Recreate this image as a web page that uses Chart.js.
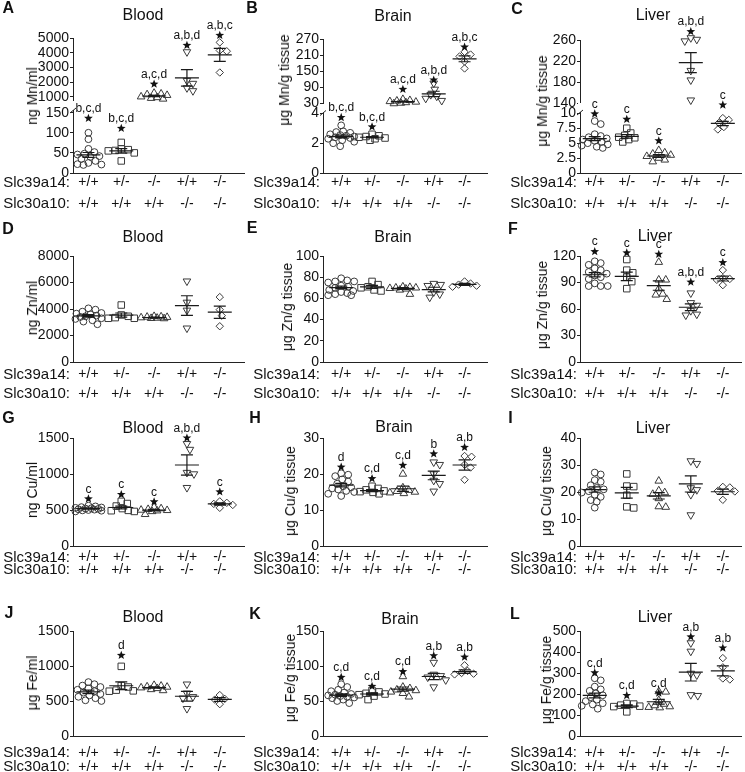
<!DOCTYPE html>
<html><head><meta charset="utf-8">
<script src="https://cdn.jsdelivr.net/npm/chart.js@4.4.1/dist/chart.umd.min.js"></script>
<style>
html,body{margin:0;padding:0;background:#fff;}
#fig{position:relative;width:745px;height:772px;overflow:hidden;font-family:"Liberation Sans",Arial,sans-serif;color:#111;}
canvas{position:absolute;}
.t{position:absolute;white-space:nowrap;transform:translate(-50%,-50%);line-height:1;}
.letter{font-weight:bold;font-size:16px;}
.title{font-size:16px;}
.ytitle{font-size:14px;transform:translate(-50%,-50%) rotate(-90deg);}
</style></head><body><div id="fig"></div>
<script>
// ---------- shared categories ----------
const genotypeSlc39a14 = ['+/+', '+/-', '-/-', '+/+', '-/-'];
const genotypeSlc30a10 = ['+/+', '+/+', '+/+', '-/-', '-/-'];

// ---------- A: Mn, blood (ng/ml), broken axis ----------
const A_points = [
  [100, 84, 60, 52, 48, 46, 42, 40, 35, 30, 25, 22, 21, 20],
  [76, 60, 58, 56, 55, 50, 30],
  [1250, 1200, 1150, 1100, 1000, 950, 900, 850],
  [4050, 2100, 1900, 1600, 1400],
  [4700, 4150, 4100, 2650]
];
const A_mean = [45, 55, 1050, 2280, 3850];
const A_sem = [6, 5.5, 50, 560, 440];
const A_star = [136, 111, 1860, 4500, 5180];
const A_letters = ['b,c,d', 'b,c,d', 'a,c,d', 'a,b,d', 'a,b,c'];
const A_groupAxis = ['lo', 'lo', 'hi', 'hi', 'hi'];
const A_ticksLow = [0, 50, 100, 150];
const A_ticksHigh = [1000, 2000, 3000, 4000, 5000];

// ---------- B: Mn, brain (ug/g), broken axis ----------
const B_points = [
  [3.2, 2.8, 2.75, 2.7, 2.6, 2.55, 2.5, 2.45, 2.4, 2.35, 2.3, 2.2, 2.1, 2.0, 1.8],
  [2.6, 2.5, 2.45, 2.4, 2.35, 2.3, 2.2],
  [45, 41, 39, 37, 35, 33, 31, 29],
  [105, 82, 62, 56, 48, 40],
  [222, 212, 205, 186, 160]
];
const B_mean = [2.45, 2.4, 36, 65, 196];
const B_sem = [0.09, 0.05, 2, 10, 11];
const B_star = [3.73, 3.1, 82, 117, 240];
const B_letters = ['b,c,d', 'b,c,d', 'a,c,d', 'a,b,d', 'a,b,c'];
const B_groupAxis = ['lo', 'lo', 'hi', 'hi', 'hi'];
const B_ticksLow = [0, 2, 4];
const B_ticksHigh = [30, 90, 150, 210, 270];

// ---------- C: Mn, liver (ug/g), broken axis ----------
const C_points = [
  [8.7, 8.2, 6.5, 6.2, 6.0, 5.8, 5.6, 5.4, 5.2, 5.0, 4.8, 4.6, 4.4, 4.2],
  [7.5, 6.7, 6.3, 6.0, 5.9, 5.6, 5.2],
  [3.8, 3.4, 3.2, 3.0, 2.8, 2.5, 2.2, 1.9],
  [264, 261, 258, 202, 184, 146],
  [9.2, 8.9, 8.4, 7.7, 7.3]
];
const C_mean = [5.76, 6.15, 2.85, 217, 8.3];
const C_sem = [0.35, 0.3, 0.22, 19, 0.35];
const C_star = [9.9, 9.0, 5.4, 276, 11.4];
const C_letters = ['c', 'c', 'c', 'a,b,d', 'c'];
const C_groupAxis = ['lo', 'lo', 'lo', 'hi', 'lo'];
const C_ticksLow = [0, 2.5, 5, 7.5, 10];
const C_ticksHigh = [140, 180, 220, 260];

// ---------- D: Zn, blood ----------
const D_points = [
  [4050, 3950, 3800, 3700, 3650, 3600, 3500, 3450, 3400, 3300, 3250, 3150, 3050, 2850],
  [4300, 3550, 3450, 3350, 3300, 3300],
  [3450, 3420, 3400, 3380, 3350, 3320, 3300, 3280],
  [6100, 4500, 3900, 2550],
  [4900, 3950, 3500, 2700]
];
const D_mean = [3480, 3540, 3360, 4260, 3760];
const D_sem = [95, 160, 25, 740, 460];
const D_star = [null, null, null, null, null];
const D_letters = ['', '', '', '', ''];
const D_ticks = [0, 2000, 4000, 6000, 8000];

// ---------- E: Zn, brain ----------
const E_points = [
  [79, 77, 76, 76, 75, 72, 71, 70, 68, 67, 66, 65, 64, 63, 63],
  [76, 73, 71, 70, 68, 67],
  [71, 70.5, 70, 70, 69.5, 69, 68, 64],
  [74, 73, 72, 66, 64, 61],
  [76, 74, 73, 72, 71]
];
const E_mean = [70.2, 70.8, 69.4, 68.3, 73.2];
const E_sem = [1.3, 1.4, 0.8, 2.2, 0.9];
const E_star = [null, null, null, null, null];
const E_letters = ['', '', '', '', ''];
const E_ticks = [0, 20, 40, 60, 80, 100];

// ---------- F: Zn, liver ----------
const F_points = [
  [114, 112, 110, 106, 104, 102, 100, 98, 96, 94, 89, 86, 86, 86],
  [116, 104, 101, 96, 91, 83],
  [113, 93, 93, 83, 77, 76, 71],
  [78, 67, 64, 58, 54, 53],
  [104, 95, 94, 93, 87]
];
const F_mean = [98.8, 97, 86.5, 62, 94.5];
const F_sem = [2.4, 4.8, 5.3, 3.9, 2.8];
const F_star = [125, 123.5, 122, 90.5, 112.5];
const F_letters = ['c', 'c', 'c', 'a,b,d', 'c'];
const F_ticks = [0, 30, 60, 90, 120];

// ---------- G: Cu, blood ----------
const G_points = [
  [560, 550, 540, 535, 530, 525, 520, 515, 510, 505, 500, 495, 490, 480],
  [620, 590, 555, 520, 495, 490, 480],
  [540, 520, 510, 500, 495, 490, 480, 440],
  [1420, 1340, 1020, 1000, 810],
  [620, 600, 585, 570, 530]
];
const G_mean = [520, 535, 497, 1125, 585];
const G_sem = [7, 20, 11, 140, 16];
const G_star = [655, 715, 614, 1500, 752];
const G_letters = ['c', 'c', 'c', 'a,b,d', 'c'];
const G_ticks = [0, 500, 1000, 1500];

// ---------- H: Cu, brain ----------
const H_points = [
  [20.2, 19.8, 19.4, 18.5, 17.9, 17.3, 16.6, 16.3, 16.0, 15.7, 15.3, 15.0, 14.5, 13.9],
  [16.6, 16.0, 15.6, 15.3, 15.1, 14.9, 14.5],
  [20.0, 16.2, 15.5, 15.2, 15.0, 14.8, 14.6],
  [23.3, 22.6, 20.0, 18.2, 17.3, 15.2],
  [25.0, 24.8, 22.6, 21.8, 18.4]
];
const H_mean = [16.9, 15.4, 15.9, 19.6, 22.5];
const H_sem = [0.5, 0.3, 0.75, 1.2, 1.4];
const H_star = [21.9, 18.7, 22.4, 25.6, 27.4];
const H_letters = ['d', 'c,d', 'c,d', 'b', 'a,b'];
const H_ticks = [0, 10, 20, 30];

// ---------- I: Cu, liver ----------
const I_points = [
  [27.2, 26.5, 24.4, 23.8, 22.5, 21.5, 21.0, 20.3, 19.8, 19.0, 18.2, 17.0, 16.4, 14.2],
  [26.7, 22.2, 22.0, 18.8, 14.5, 14.1],
  [24.1, 20.5, 19.8, 19.2, 17.6, 14.6, 14.4],
  [31.5, 30.5, 21.5, 20.8, 19.0, 11.5],
  [21.9, 21.7, 20.4, 20.2, 17.1]
];
const I_mean = [20.9, 19.7, 18.6, 23.0, 20.1];
const I_sem = [1.0, 2.0, 1.2, 3.0, 1.0];
const I_star = [null, null, null, null, null];
const I_letters = ['', '', '', '', ''];
const I_ticks = [0, 10, 20, 30, 40];

// ---------- J: Fe, blood ----------
const J_points = [
  [770, 740, 720, 700, 680, 660, 640, 620, 600, 580, 560, 540, 510, 500],
  [995, 720, 700, 655, 645, 640],
  [725, 715, 705, 700, 690, 680, 665, 650],
  [740, 610, 560, 540, 390],
  [585, 530, 520, 455]
];
const J_mean = [630, 718, 692, 568, 522];
const J_sem = [24, 55, 10, 70, 27];
const J_star = [null, 1152, null, null, null];
const J_letters = ['', 'd', '', '', ''];
const J_ticks = [0, 500, 1000, 1500];

// ---------- K: Fe, brain ----------
const K_points = [
  [74, 70, 66, 64, 62, 60, 59, 58, 57, 56, 55, 54, 52, 50, 47],
  [65, 63, 61, 60, 59, 57, 52],
  [85, 70, 68, 66, 65, 63, 61, 56],
  [105, 88, 86, 84, 80, 70],
  [101, 93, 90, 89, 88]
];
const K_mean = [58.5, 60, 67, 85, 92];
const K_sem = [1.8, 1.6, 3, 4.5, 2.5];
const K_star = [83.7, 71, 92, 114.7, 112.7];
const K_letters = ['c,d', 'c,d', 'c,d', 'a,b', 'a,b'];
const K_ticks = [0, 50, 100, 150];

// ---------- L: Fe, liver ----------
const L_points = [
  [275, 265, 235, 222, 215, 203, 194, 185, 173, 166, 156, 150, 144, 130],
  [155, 152, 147, 142, 140, 115],
  [212, 210, 170, 152, 145, 140, 137, 135],
  [443, 403, 298, 290, 196, 192],
  [371, 327, 274, 269]
];
const L_mean = [193, 142, 163, 304, 310];
const L_sem = [11, 6.5, 11, 42, 24];
const L_star = [301, 193, 205, 472, 419];
const L_letters = ['c,d', 'c,d', 'c,d', 'a,b', 'a,b'];
const L_ticks = [0, 100, 200, 300, 400, 500];

// ---------- layout (pixels) ----------
const TEXT = '#111';
const AXIS = '#222';
const MARK = '#3a3a3a';
const FONT = '"Liberation Sans", Arial, sans-serif';
Chart.defaults.font.family = FONT;
Chart.defaults.color = TEXT;

const COLS = [
  {axisX: 73, right: 247, xmin: 0.53, xmax: 5.75},
  {axisX: 323, right: 490, xmin: 0.41, xmax: 5.74},
  {axisX: 580, right: 744, xmin: 0.54, xmax: 5.58}
];
const ROWS = [
  {top: [38, 39, 40], bottom: 173, pad: -1.3, lh: 21.6},
  {top: [256, 256, 256], bottom: 362, pad: 2.9, lh: 19.3},
  {top: [438, 438, 438], bottom: 546, pad: 5, lh: 12.8},
  {top: [631, 631, 631], bottom: 736, pad: 10.3, lh: 13.6}
];
const markerStyles = [
  {pointStyle: 'circle', radius: 3.4, rotation: 0},
  {pointStyle: 'rect', radius: 4.6, rotation: 0},
  {pointStyle: 'triangle', radius: 4.4, rotation: 0},
  {pointStyle: 'triangle', radius: 4.4, rotation: 180},
  {pointStyle: 'rectRot', radius: 3.7, rotation: 0}
];

const panels = [
  {key: 'A', row: 0, col: 0, title: 'Blood', yTitle: 'ng Mn/ml', pts: A_points, mean: A_mean, sem: A_sem, star: A_star, sig: A_letters,
   broken: {axis: A_groupAxis, lo: {ticks: A_ticksLow, min: 0, max: 169, w: 68}, hi: {ticks: A_ticksHigh, min: 437, max: 5000, w: 67}},
   letterPos: [8.3, 7.5], titlePos: [143, 15], yTitlePos: [32, 96]},
  {key: 'B', row: 0, col: 1, title: 'Brain', yTitle: 'μg Mn/g tissue', pts: B_points, mean: B_mean, sem: B_sem, star: B_star, sig: B_letters,
   broken: {axis: B_groupAxis, lo: {ticks: B_ticksLow, min: 0, max: 4.4, w: 65.5}, hi: {ticks: B_ticksHigh, min: 14.3, max: 270, w: 68.5}},
   letterPos: [252, 7.5], titlePos: [393, 16], yTitlePos: [284, 80]},
  {key: 'C', row: 0, col: 2, title: 'Liver', yTitle: 'μg Mn/g tissue', pts: C_points, mean: C_mean, sem: C_sem, star: C_star, sig: C_letters,
   broken: {axis: C_groupAxis, lo: {ticks: C_ticksLow, min: 0, max: 11.06, w: 66}, hi: {ticks: C_ticksHigh, min: 133, max: 260, w: 67}},
   letterPos: [517, 8.5], titlePos: [653, 15], yTitlePos: [542, 101]},
  {key: 'D', row: 1, col: 0, title: 'Blood', yTitle: 'ng Zn/ml', pts: D_points, mean: D_mean, sem: D_sem, star: D_star, sig: D_letters, ticks: D_ticks,
   letterPos: [8, 229], titlePos: [143, 237], yTitlePos: [32, 308]},
  {key: 'E', row: 1, col: 1, title: 'Brain', yTitle: 'μg Zn/g tissue', pts: E_points, mean: E_mean, sem: E_sem, star: E_star, sig: E_letters, ticks: E_ticks,
   letterPos: [252, 228], titlePos: [393, 237], yTitlePos: [287, 307]},
  {key: 'F', row: 1, col: 2, title: 'Liver', yTitle: 'μg Zn/g tissue', pts: F_points, mean: F_mean, sem: F_sem, star: F_star, sig: F_letters, ticks: F_ticks,
   letterPos: [513, 228.5], titlePos: [655, 236], yTitlePos: [542, 305]},
  {key: 'G', row: 2, col: 0, title: 'Blood', yTitle: 'ng Cu/ml', pts: G_points, mean: G_mean, sem: G_sem, star: G_star, sig: G_letters, ticks: G_ticks,
   letterPos: [8.5, 418], titlePos: [143, 428], yTitlePos: [32, 490]},
  {key: 'H', row: 2, col: 1, title: 'Brain', yTitle: 'μg Cu/g tissue', pts: H_points, mean: H_mean, sem: H_sem, star: H_star, sig: H_letters, ticks: H_ticks,
   letterPos: [255, 418], titlePos: [394, 427], yTitlePos: [290, 491]},
  {key: 'I', row: 2, col: 2, title: 'Liver', yTitle: 'μg Cu/g tissue', pts: I_points, mean: I_mean, sem: I_sem, star: I_star, sig: I_letters, ticks: I_ticks,
   letterPos: [510.5, 418], titlePos: [653, 428], yTitlePos: [546, 491]},
  {key: 'J', row: 3, col: 0, title: 'Blood', yTitle: 'μg Fe/ml', pts: J_points, mean: J_mean, sem: J_sem, star: J_star, sig: J_letters, ticks: J_ticks,
   letterPos: [9, 613], titlePos: [143, 617], yTitlePos: [32, 683]},
  {key: 'K', row: 3, col: 1, title: 'Brain', yTitle: 'μg Fe/g tissue', pts: K_points, mean: K_mean, sem: K_sem, star: K_star, sig: K_letters, ticks: K_ticks,
   letterPos: [255, 614], titlePos: [400, 619], yTitlePos: [290, 678]},
  {key: 'L', row: 3, col: 2, title: 'Liver', yTitle: 'μg Fe/g tissue', pts: L_points, mean: L_mean, sem: L_sem, star: L_star, sig: L_letters, ticks: L_ticks,
   letterPos: [515, 613.5], titlePos: [655, 617], yTitlePos: [546, 680]}
];

const fig = document.getElementById('fig');

function axisId(p, gi) {
  if (!p.broken) return 'y';
  return p.broken.axis[gi] === 'hi' ? 'yHi' : 'yLo';
}

function starShape(ctx, cx, cy, R) {
  const r = R * 0.42;
  ctx.beginPath();
  for (let k = 0; k < 10; k++) {
    const ang = -Math.PI / 2 + k * Math.PI / 5;
    const rr = (k % 2) ? r : R;
    ctx.lineTo(cx + rr * Math.cos(ang), cy + rr * Math.sin(ang));
  }
  ctx.closePath();
  ctx.fill();
}

function makeOverlay(p, r) {
  return {
    id: 'overlay_' + p.key,
    afterDatasetsDraw(chart) {
      const ctx = chart.ctx;
      const xs = chart.scales.x;
      ctx.save();
      // mean +/- SEM
      ctx.strokeStyle = '#1a1a1a';
      ctx.lineWidth = 1.2;
      p.mean.forEach((m, gi) => {
        const ys = chart.scales[axisId(p, gi)];
        const cx = xs.getPixelForValue(gi + 1);
        const ym = ys.getPixelForValue(m);
        const yt = ys.getPixelForValue(m + p.sem[gi]);
        const yb = ys.getPixelForValue(m - p.sem[gi]);
        ctx.beginPath();
        ctx.moveTo(cx - 12, ym); ctx.lineTo(cx + 12, ym);
        ctx.moveTo(cx, yt); ctx.lineTo(cx, yb);
        ctx.moveTo(cx - 6, yt); ctx.lineTo(cx + 6, yt);
        ctx.moveTo(cx - 6, yb); ctx.lineTo(cx + 6, yb);
        ctx.stroke();
      });
      // significance stars and letters
      ctx.fillStyle = TEXT;
      ctx.textAlign = 'center';
      ctx.textBaseline = 'middle';
      ctx.font = '12px ' + FONT;
      p.star.forEach((s, gi) => {
        if (s === null) return;
        let ax = 'y';
        if (p.broken) ax = (s > p.broken.lo.max * 1.06) ? 'yHi' : 'yLo';
        const ys = chart.scales[ax];
        const cx = xs.getPixelForValue(gi + 1);
        const sy = ys.getPixelForValue(s);
        starShape(ctx, cx, sy, 4.6);
        if (p.sig[gi]) ctx.fillText(p.sig[gi], cx, sy - 9.5);
      });
      // axis break
      if (p.broken) {
        const b = chart.scales.yLo.top;
        const ax = chart.chartArea.left;
        ctx.clearRect(ax - 2, b - 4, 4, 9);
        ctx.strokeStyle = AXIS;
        ctx.lineWidth = 1;
        ctx.beginPath();
        ctx.moveTo(ax - 3, b + 8); ctx.lineTo(ax + 3, b + 3);
        ctx.stroke();
      }
      // row headers for genotype labels
      ctx.fillStyle = TEXT;
      ctx.textAlign = 'right';
      ctx.font = '15px ' + FONT;
      const y1 = xs.top + r.pad + r.lh / 2;
      ctx.fillText('Slc39a14:', chart.chartArea.left - 3, y1);
      ctx.fillText('Slc30a10:', chart.chartArea.left - 3, y1 + r.lh);
      ctx.restore();
    }
  };
}

function swarm(chart, p) {
  const xs = chart.scales.x;
  const unit = xs.getPixelForValue(2) - xs.getPixelForValue(1);
  chart.data.datasets.forEach((ds, gi) => {
    const ys = chart.scales[ds.yAxisID];
    const vals = p.pts[gi];
    const order = vals.map((v, i) => i).sort((a, b) => vals[b] - vals[a]);
    const placed = [];
    const minD = 6.2, maxOff = 13;
    order.forEach(i => {
      const py = ys.getPixelForValue(vals[i]);
      let chosen = null, best = 0, bestScore = -1;
      for (let k = 0; k <= maxOff * 2; k++) {
        const off = (k % 2 ? 1 : -1) * Math.ceil(k / 2);
        let d = Infinity;
        placed.forEach(q => { d = Math.min(d, Math.hypot(off - q.off, py - q.py)); });
        if (d >= minD) { chosen = off; break; }
        if (d > bestScore) { bestScore = d; best = off; }
      }
      if (chosen === null) chosen = best;
      placed.push({off: chosen, py});
      ds.data[i].x = gi + 1 + chosen / unit;
    });
  });
}

function addText(txt, pos, cls) {
  const d = document.createElement('div');
  d.className = 't ' + cls;
  d.textContent = txt;
  d.style.left = pos[0] + 'px';
  d.style.top = pos[1] + 'px';
  fig.appendChild(d);
}

function build(p) {
  const c = COLS[p.col], r = ROWS[p.row];
  const plotTop = r.top[p.col], plotBottom = r.bottom;
  const yW = 74, xH = 46, padTop = 32, padRight = 3;
  const left = c.axisX - yW, top = plotTop - padTop;
  const width = Math.round(c.right + padRight - left);
  const height = Math.round(plotBottom + xH - top);
  const canvas = document.createElement('canvas');
  canvas.width = width; canvas.height = height;
  canvas.style.left = left + 'px'; canvas.style.top = top + 'px';
  canvas.style.width = width + 'px'; canvas.style.height = height + 'px';
  fig.appendChild(canvas);

  const scales = {
    x: {
      type: 'linear', position: 'bottom', min: c.xmin, max: c.xmax,
      grid: {display: false, drawTicks: false},
      border: {display: true, color: AXIS, width: 1},
      afterBuildTicks: s => { s.ticks = genotypeSlc39a14.map((_, i) => ({value: i + 1})); },
      afterFit: s => { s.height = xH; },
      ticks: {
        autoSkip: false, maxRotation: 0, minRotation: 0, padding: r.pad, color: TEXT,
        font: {size: 14, lineHeight: r.lh / 14},
        callback: v => { const i = Math.round(v) - 1; return [genotypeSlc39a14[i], genotypeSlc30a10[i]]; }
      }
    }
  };
  function yScale(tickVals, min, max, extra) {
    return Object.assign({
      type: 'linear', position: 'left', min: min, max: max,
      grid: {display: true, drawOnChartArea: false, drawTicks: true, tickLength: 3, color: AXIS, lineWidth: 1},
      border: {display: true, color: AXIS, width: 1},
      afterBuildTicks: s => { s.ticks = tickVals.map(v => ({value: v})); },
      afterFit: s => { s.width = yW; },
      ticks: {autoSkip: false, padding: 1, color: TEXT, font: {size: 14}, callback: v => String(v)}
    }, extra || {});
  }
  if (p.broken) {
    scales.yLo = yScale(p.broken.lo.ticks, p.broken.lo.min, p.broken.lo.max, {stack: 'brk', stackWeight: p.broken.lo.w});
    scales.yHi = yScale(p.broken.hi.ticks, p.broken.hi.min, p.broken.hi.max, {stack: 'brk', stackWeight: p.broken.hi.w});
  } else {
    scales.y = yScale(p.ticks, 0, p.ticks[p.ticks.length - 1]);
  }

  const datasets = p.pts.map((vals, gi) => {
    const st = markerStyles[gi];
    return {
      type: 'scatter',
      data: vals.map(v => ({x: gi + 1, y: v})),
      yAxisID: axisId(p, gi),
      pointStyle: st.pointStyle, pointRadius: st.radius, pointRotation: st.rotation,
      pointBorderColor: MARK, pointBackgroundColor: 'rgba(0,0,0,0)', pointBorderWidth: 1,
      showLine: false, clip: false
    };
  });

  const chart = new Chart(canvas, {
    type: 'scatter',
    data: {datasets},
    options: {
      responsive: false, animation: false, devicePixelRatio: 1, events: [],
      layout: {padding: {top: padTop, right: padRight, left: 0, bottom: 0}},
      plugins: {legend: {display: false}, tooltip: {enabled: false}},
      scales
    },
    plugins: [makeOverlay(p, r)]
  });
  swarm(chart, p);
  chart.update('none');

  addText(p.key, p.letterPos, 'letter');
  addText(p.title, p.titlePos, 'title');
  addText(p.yTitle, p.yTitlePos, 'ytitle');
}

panels.forEach(build);
</script>
</body></html>
